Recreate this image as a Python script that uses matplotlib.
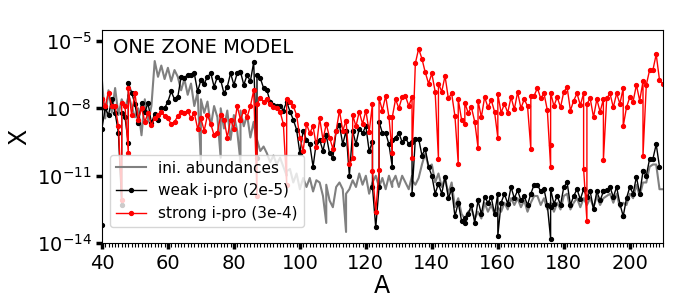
import matplotlib
matplotlib.use("Agg")
import matplotlib.pyplot as plt
import numpy as np
from matplotlib.ticker import MultipleLocator, NullLocator

# mass number of each isotope (isobars repeated)
mass = [
    40, 40, 41, 42, 43, 44, 45, 46, 46, 47, 48, 48, 49,
    50, 51, 52, 53, 54, 55, 56, 57, 58, 59,
    60, 61, 62, 63, 64, 65, 66, 67, 68, 69,
    70, 70, 71, 72, 73, 74, 75, 76, 76, 77, 78, 79,
    80, 81, 82, 82, 83, 84, 85, 86, 87, 87, 88, 89,
    90, 91, 92, 93, 94, 95, 96, 96, 97, 98, 99,
    100, 101, 102, 103, 104, 105, 106, 107, 108, 108, 109,
    110, 111, 112, 113, 114, 114, 115, 116, 116, 117, 118, 119,
    120, 121, 122, 122, 123, 124, 124, 125, 126, 127, 128, 128, 129,
    130, 131, 132, 133, 134, 134, 135, 136, 137, 138, 139,
    140, 141, 142, 142, 143, 144, 145, 146, 147, 148, 148, 149,
    150, 150, 151, 152, 153, 154, 154, 155, 156, 157, 158, 159,
    160, 160, 161, 162, 163, 164, 165, 166, 167, 168, 169,
    170, 170, 171, 172, 173, 174, 175, 176, 176, 176, 177, 178, 179,
    180, 181, 182, 183, 184, 185, 186, 186, 187, 187, 188, 189,
    190, 191, 192, 192, 193, 194, 195, 196, 197, 198, 198, 199,
    200, 201, 202, 203, 204, 204, 205, 206, 207, 208, 209, 210,
]

# log10 of abundance
log_ini = [
    -6.75, -6.75, -8.45, -7.2, -8.2, -7.1, -8.3, -7.6, -7.6, -8.0, -7.5, -7.4, -7.9,
    -8.4, -8.0, -9.2, -7.6, -8.6, -7.9, -5.9, -6.6, -6.1, -6.7,
    -6.2, -6.8, -6.3, -6.6, -7.2, -6.7, -7.4, -6.9, -7.9, -7.3,
    -10.4, -7.6, -8.2, -7.7, -8.8, -7.9, -8.4, -10.2, -8.0, -8.9, -8.1, -9.4,
    -8.3, -9.0, -10.4, -8.1, -8.8, -8.3, -9.3, -8.6, -9.6, -9.4, -9.9, -9.7,
    -10.0, -10.4, -10.1, -10.5, -10.2, -10.6, -11.0, -10.8, -10.7, -11.3, -10.9,
    -11.6, -11.1, -11.5, -11.1, -11.7, -11.2, -11.3, -11.9, -13.1, -11.4, -12.1,
    -12.4, -11.5, -11.3, -11.6, -13.5, -11.8, -11.6, -11.2, -11.2, -11.5, -10.9, -11.4,
    -11.0, -11.8, -11.3, -11.3, -11.0, -11.5, -11.5, -11.1, -11.6, -11.0, -11.5, -11.3, -11.0,
    -11.5, -11.0, -11.3, -11.6, -11.0, -11.2, -11.4, -11.1, -10.5, -10.0, -10.6,
    -10.5, -11.3, -10.9, -10.9, -11.5, -11.1, -11.8, -11.3, -12.4, -12.0, -12.0, -12.7,
    -12.9, -12.9, -12.6, -12.5, -12.9, -12.6, -12.6, -12.9, -12.2, -12.6, -12.3, -12.7,
    -12.4, -12.4, -12.6, -12.2, -12.5, -12.0, -12.3, -12.0, -12.4, -12.1, -12.6,
    -12.2, -12.2, -11.9, -11.9, -12.3, -12.0, -12.5, -12.2, -12.2, -12.2, -12.6, -12.2, -12.5,
    -11.9, -11.8, -12.5, -12.2, -12.0, -12.4, -12.0, -12.0, -12.3, -12.3, -12.0, -12.4,
    -11.9, -12.3, -12.0, -12.0, -11.9, -11.8, -12.2, -11.8, -12.4, -12.2, -12.2, -12.3,
    -11.8, -12.0, -11.4, -11.9, -11.3, -11.3, -11.3, -10.6, -10.5, -10.5, -11.6, -11.6,
]

log_weak = [
    -13.2, -8.9, -8.0, -8.3, -7.6, -8.2, -9.1, -12.3, -8.2, -8.4, -9.55, -6.86, -7.3,
    -7.8, -8.66, -7.78, -8.15, -7.78, -8.66, -8.25, -8.5, -8.0, -8.0,
    -7.7, -7.25, -7.6, -7.5, -6.6, -6.65, -6.5, -6.5, -6.45, -7.25,
    -6.75, -6.75, -6.9, -6.6, -6.44, -7.04, -6.6, -6.74, -6.74, -7.34, -7.04, -6.44,
    -6.96, -6.44, -6.37, -6.37, -6.96, -6.52, -6.8, -5.95, -10.2, -6.5, -6.66, -7.1,
    -7.2, -7.7, -7.85, -7.9, -7.9, -8.1, -7.7, -7.7, -8.15, -8.5, -8.95,
    -10.0, -9.0, -9.4, -9.6, -10.6, -9.5, -9.4, -9.9, -9.2, -9.2, -10.0,
    -10.2, -9.0, -8.75, -9.6, -9.0, -9.0, -11.0, -9.0, -9.0, -9.6, -8.9, -9.1,
    -8.8, -9.9, -9.5, -11.5, -13.3, -11.5, -8.6, -9.1, -9.1, -9.6, -10.6, -9.4, -9.3,
    -9.1, -9.5, -9.3, -9.6, -9.5, -11.8, -9.35, -9.35, -10.1, -9.8, -10.6,
    -11.0, -11.8, -11.35, -11.35, -11.8, -11.05, -12.0, -11.6, -12.8, -12.2, -12.2, -13.0,
    -13.1, -12.9, -12.7, -12.3, -13.1, -12.1, -12.1, -12.7, -11.95, -12.2, -11.95, -12.7,
    -11.8, -13.66, -12.2, -11.8, -12.25, -11.5, -12.0, -11.65, -12.1, -11.9, -12.3,
    -11.8, -11.8, -11.4, -11.4, -11.7, -11.6, -12.3, -13.8, -12.4, -11.6, -12.25, -11.9, -12.3,
    -11.5, -11.3, -12.3, -11.9, -11.6, -12.05, -11.6, -11.6, -11.95, -11.95, -11.7, -12.5,
    -11.7, -12.1, -11.7, -11.7, -11.65, -11.5, -11.95, -11.5, -12.25, -12.8, -12.8, -12.0,
    -11.5, -11.8, -11.05, -11.8, -10.8, -10.8, -11.0, -10.25, -10.25, -9.6, -10.6, np.nan,
]

log_strong = [
    -7.6, -7.6, -7.9, -7.3, -7.9, -7.9, -8.8, -12.1, -7.75, -7.9, -10.0, -7.1, -8.3,
    -7.3, -8.5, -8.0, -8.6, -8.2, -8.75, -8.45, -8.3, -8.15, -8.35,
    -8.45, -8.7, -8.6, -8.35, -8.15, -8.2, -8.1, -8.45, -8.2, -8.9,
    -8.45, -8.45, -9.0, -8.3, -8.7, -9.2, -9.1, -8.3, -8.3, -8.5, -9.3, -8.5,
    -8.9, -7.9, -8.5, -8.5, -8.1, -8.4, -7.9, -7.2, -11.9, -7.8, -7.55, -7.7,
    -7.6, -7.8, -7.95, -8.0, -8.15, -8.7, -11.4, -7.6, -7.7, -7.9, -8.3,
    -9.3, -9.9, -8.7, -9.1, -8.8, -9.7, -8.45, -9.4, -8.7, -8.7, -9.3,
    -9.8, -9.0, -8.1, -9.0, -8.55, -8.55, -10.5, -10.2, -8.3, -8.8, -8.15, -8.7,
    -8.1, -9.05, -7.8, -10.8, -12.6, -10.75, -7.55, -8.1, -7.45, -8.4, -10.0, -8.4, -7.6,
    -8.0, -7.5, -7.45, -7.9, -7.5, -10.2, -6.0, -5.35, -5.8, -6.4, -6.9,
    -6.45, -7.26, -10.24, -6.9, -7.26, -6.56, -7.56, -7.34, -8.35, -10.46, -7.6, -8.5,
    -8.7, -7.75, -8.2, -7.96, -8.6, -9.75, -7.66, -8.4, -7.5, -7.96, -7.63, -8.15,
    -9.3, -7.37, -8.2, -7.8, -8.2, -7.5, -8.05, -7.28, -8.0, -7.6, -7.9,
    -9.8, -7.45, -7.44, -7.1, -7.56, -7.34, -8.08, -10.6, -9.64, -7.3, -7.9, -7.5, -7.96,
    -7.26, -7.07, -8.1, -7.66, -7.34, -7.86, -7.34, -10.7, -13.0, -7.8, -7.56, -8.4,
    -7.6, -8.15, -7.6, -10.3, -7.56, -7.34, -7.96, -7.34, -7.8, -7.1, -8.8, -7.96,
    -7.5, -7.7, -6.96, -7.66, -6.8, -10.1, -6.96, -6.3, -6.3, -5.6, -6.74, -6.9,
]

assert len(mass) == len(log_ini) == len(log_weak) == len(log_strong)

A = np.array(mass)
x_ini = 10.0 ** np.array(log_ini)
x_weak = 10.0 ** np.array(log_weak)
x_strong = 10.0 ** np.array(log_strong)

fig = plt.figure(figsize=(6.84, 3.04), dpi=100)
ax = fig.add_axes([0.149, 0.2, 0.82, 0.701])

ax.plot(A, x_ini, color="gray", lw=1.5, label="ini. abundances")
ax.plot(A, x_weak, color="black", lw=1.0, marker="o", ms=2.8, label="weak i-pro (2e-5)")
ax.plot(A, x_strong, color="red", lw=1.0, marker="o", ms=2.8, label="strong i-pro (3e-4)")

ax.set_yscale("log")
ax.set_xlim(40, 210)
ax.set_ylim(1e-14, 3e-5)
ax.set_yticks([1e-14, 1e-11, 1e-8, 1e-5])
ax.yaxis.set_minor_locator(NullLocator())
ax.xaxis.set_major_locator(MultipleLocator(20))
ax.xaxis.set_minor_locator(MultipleLocator(1))
ax.tick_params(which="major", length=4, width=2.5, labelsize=14)
ax.tick_params(which="minor", length=3, width=0.8)

ax.set_xlabel("A", fontsize=17, labelpad=1)
ax.set_ylabel("X", fontsize=17)
ax.text(0.02, 0.965, "ONE ZONE MODEL", transform=ax.transAxes,
        fontsize=14, va="top", ha="left")
ax.legend(loc="lower left", bbox_to_anchor=(0.0, 0.04), fontsize=11)

fig.savefig("out.png", dpi=100)
